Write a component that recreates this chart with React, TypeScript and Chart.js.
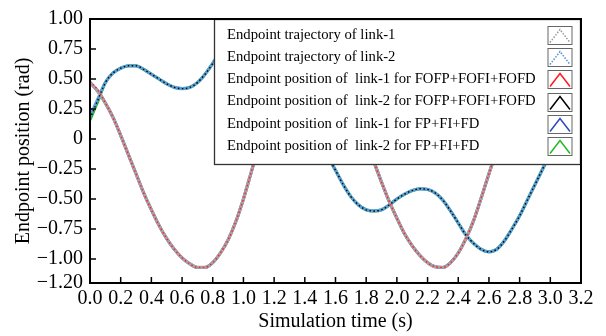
import React, { useEffect, useRef } from 'react';
import { Chart, registerables } from 'chart.js';

Chart.register(...registerables);

const FONT = '"Liberation Serif", "Times New Roman", serif';

// Simulation time (s)
const timeS = [
  0.0, 0.05, 0.1, 0.15, 0.2, 0.25, 0.3, 0.35, 0.4, 0.45,
  0.5, 0.55, 0.6, 0.65, 0.7, 0.75, 0.8, 0.85, 0.9, 0.95,
  1.0, 1.05, 1.1, 1.15, 1.2, 1.25, 1.3, 1.35, 1.4, 1.45,
  1.5, 1.55, 1.6, 1.65, 1.7, 1.75, 1.8, 1.85, 1.9, 1.95,
  2.0, 2.05, 2.1, 2.15, 2.2, 2.25, 2.3, 2.35, 2.4, 2.45,
  2.5, 2.55, 2.6, 2.65, 2.7, 2.75, 2.8, 2.85, 2.9, 2.95,
  3.0,
];

const link1Trajectory = [
  0.47, 0.40, 0.30, 0.18, 0.03, -0.13, -0.29, -0.45, -0.59, -0.72,
  -0.83, -0.92, -0.99, -1.04, -1.07, -1.07, -1.03, -0.95, -0.84, -0.69,
  -0.50, -0.28, -0.06, 0.12, 0.26, 0.36, 0.43, 0.47, 0.48, 0.48,
  0.48, 0.47, 0.44, 0.37, 0.27, 0.14, -0.02, -0.19, -0.36, -0.52,
  -0.66, -0.79, -0.89, -0.97, -1.03, -1.065, -1.07, -1.03, -0.95, -0.83,
  -0.68, -0.49, -0.29, -0.10, 0.07, 0.21, 0.32, 0.40, 0.45, 0.47,
  0.48,
];

const link2Trajectory = [
  0.19, 0.33, 0.47, 0.55, 0.59, 0.61, 0.61, 0.58, 0.54, 0.50,
  0.46, 0.43, 0.42, 0.43, 0.47, 0.54, 0.63, 0.73, 0.82, 0.88,
  0.91, 0.91, 0.87, 0.80, 0.70, 0.57, 0.42, 0.28, 0.16, 0.05,
  -0.05, -0.15, -0.26, -0.38, -0.48, -0.55, -0.59, -0.60, -0.59, -0.55,
  -0.50, -0.46, -0.43, -0.415, -0.42, -0.45, -0.51, -0.60, -0.70, -0.80,
  -0.87, -0.92, -0.94, -0.92, -0.85, -0.75, -0.64, -0.51, -0.38, -0.25,
  -0.12,
];

const link1Fofp = [
  0.48, 0.41, 0.30, 0.18, 0.03, -0.13, -0.29, -0.45, -0.59, -0.72,
  -0.83, -0.92, -0.99, -1.04, -1.07, -1.07, -1.03, -0.95, -0.84, -0.69,
  -0.50, -0.28, -0.06, 0.12, 0.26, 0.36, 0.43, 0.47, 0.48, 0.48,
  0.48, 0.47, 0.44, 0.37, 0.27, 0.14, -0.02, -0.19, -0.36, -0.52,
  -0.66, -0.79, -0.89, -0.97, -1.03, -1.065, -1.07, -1.03, -0.95, -0.83,
  -0.68, -0.49, -0.29, -0.10, 0.07, 0.21, 0.32, 0.40, 0.45, 0.47,
  0.48,
];

const link2Fofp = [
  0.17, 0.32, 0.47, 0.55, 0.59, 0.61, 0.61, 0.58, 0.54, 0.50,
  0.46, 0.43, 0.42, 0.43, 0.47, 0.54, 0.63, 0.73, 0.82, 0.88,
  0.91, 0.91, 0.87, 0.80, 0.70, 0.57, 0.42, 0.28, 0.16, 0.05,
  -0.05, -0.15, -0.26, -0.38, -0.48, -0.55, -0.59, -0.60, -0.59, -0.55,
  -0.50, -0.46, -0.43, -0.415, -0.42, -0.45, -0.51, -0.60, -0.70, -0.80,
  -0.87, -0.92, -0.94, -0.92, -0.85, -0.75, -0.64, -0.51, -0.38, -0.25,
  -0.12,
];

const link1Fp = [
  0.47, 0.40, 0.30, 0.18, 0.03, -0.13, -0.29, -0.45, -0.59, -0.72,
  -0.83, -0.92, -0.99, -1.04, -1.07, -1.07, -1.03, -0.95, -0.84, -0.69,
  -0.50, -0.28, -0.06, 0.12, 0.26, 0.36, 0.43, 0.47, 0.48, 0.48,
  0.48, 0.47, 0.44, 0.37, 0.27, 0.14, -0.02, -0.19, -0.36, -0.52,
  -0.66, -0.79, -0.89, -0.97, -1.03, -1.065, -1.07, -1.03, -0.95, -0.83,
  -0.68, -0.49, -0.29, -0.10, 0.07, 0.21, 0.32, 0.40, 0.45, 0.47,
  0.48,
];

const link2Fp = [
  0.16, 0.31, 0.47, 0.55, 0.59, 0.61, 0.61, 0.58, 0.54, 0.50,
  0.46, 0.43, 0.42, 0.43, 0.47, 0.54, 0.63, 0.73, 0.82, 0.88,
  0.91, 0.91, 0.87, 0.80, 0.70, 0.57, 0.42, 0.28, 0.16, 0.05,
  -0.05, -0.15, -0.26, -0.38, -0.48, -0.55, -0.59, -0.60, -0.59, -0.55,
  -0.50, -0.46, -0.43, -0.415, -0.42, -0.45, -0.51, -0.60, -0.70, -0.80,
  -0.87, -0.92, -0.94, -0.92, -0.85, -0.75, -0.64, -0.51, -0.38, -0.25,
  -0.12,
];

const seriesLabels = [
  'Endpoint trajectory of link-1',
  'Endpoint trajectory of link-2',
  'Endpoint position of  link-1 for FOFP+FOFI+FOFD',
  'Endpoint position of  link-2 for FOFP+FOFI+FOFD',
  'Endpoint position of  link-1 for FP+FI+FD',
  'Endpoint position of  link-2 for FP+FI+FD',
];

const xTickValues = [0, 0.2, 0.4, 0.6, 0.8, 1.0, 1.2, 1.4, 1.6, 1.8, 2.0, 2.2, 2.4, 2.6, 2.8, 3.0, 3.2];
const yTickValues = [1.0, 0.75, 0.5, 0.25, 0, -0.25, -0.5, -0.75, -1.0, -1.2];
const yTickLabels = ['1.00', '0.75', '0.50', '0.25', '0', '\u22120.25', '\u22120.50', '\u22120.75', '\u22121.00', '\u22121.20'];

const swatchColors = ['#9a9a9a', '#4a90d9', '#ff1a1a', '#000000', '#3048c0', '#22bb22'];
const swatchDashes: number[][] = [[1.5, 1.5], [1.5, 1.5], [], [], [], []];

const toPoints = (vals: number[]) => timeS.map((t, i) => ({ x: t, y: vals[i] }));

const framePlugin = {
  id: 'frameAndLegend',
  afterDatasetsDraw(chart: any) {
    const { ctx, chartArea: a } = chart;
    const xs = chart.scales.x;
    const ys = chart.scales.y;
    ctx.save();

    // inward ticks
    ctx.strokeStyle = '#000';
    ctx.lineWidth = 1.5;
    ctx.setLineDash([]);
    ctx.beginPath();
    xTickValues.forEach((v) => {
      const px = xs.getPixelForValue(v);
      if (px <= a.left + 1 || px >= a.right - 1) return;
      ctx.moveTo(px, a.bottom);
      ctx.lineTo(px, a.bottom - 6);
    });
    yTickValues.forEach((v) => {
      const py = ys.getPixelForValue(v);
      if (py <= a.top + 1 || py >= a.bottom - 1) return;
      ctx.moveTo(a.left, py);
      ctx.lineTo(a.left + 6, py);
    });
    ctx.stroke();

    // legend box
    const L = a.left + 124;
    const T = a.top;
    const R = a.right;
    const B = a.top + 146;
    ctx.fillStyle = '#ffffff';
    ctx.fillRect(L, T, R - L, B - T);
    ctx.strokeStyle = '#333';
    ctx.lineWidth = 1.3;
    ctx.strokeRect(L + 0.5, T + 0.5, R - L - 1, B - T - 1);

    ctx.font = `14.7px ${FONT}`;
    ctx.textBaseline = 'middle';
    ctx.textAlign = 'left';
    chart.data.datasets.forEach((ds: any, i: number) => {
      const y = T + 16 + i * 22.2;
      ctx.fillStyle = '#000';
      ctx.fillText(ds.label, L + 13, y);
      const sw = 24;
      const sh = 18;
      const sx = R - 33;
      const sy = Math.round(y - sh / 2) + 0.5;
      ctx.setLineDash([]);
      ctx.strokeStyle = '#666';
      ctx.lineWidth = 1;
      ctx.strokeRect(sx, sy, sw, sh);
      ctx.beginPath();
      ctx.moveTo(sx + 2, sy + sh - 2);
      ctx.lineTo(sx + sw / 2, sy + 3);
      ctx.lineTo(sx + sw - 2, sy + sh - 2);
      ctx.strokeStyle = swatchColors[i];
      ctx.setLineDash(swatchDashes[i]);
      ctx.lineWidth = 1.5;
      ctx.stroke();
    });

    // frame
    ctx.setLineDash([]);
    ctx.strokeStyle = '#000';
    ctx.lineWidth = 2;
    ctx.strokeRect(a.left, a.top, a.right - a.left, a.bottom - a.top);
    ctx.restore();
  },
};

export default function App() {
  const canvasRef = useRef<HTMLCanvasElement | null>(null);

  useEffect(() => {
    const canvas = canvasRef.current;
    if (!canvas) return;
    const chart = new Chart(canvas, {
      type: 'line',
      data: {
        datasets: [
          {
            label: seriesLabels[0],
            data: toPoints(link1Trajectory),
            borderColor: '#a9a1a3',
            borderWidth: 3.2,
            order: 2,
          },
          {
            label: seriesLabels[1],
            data: toPoints(link2Trajectory),
            borderColor: '#5b9fd8',
            borderWidth: 3.2,
            order: 3,
          },
          {
            label: seriesLabels[2],
            data: toPoints(link1Fofp),
            borderColor: '#ff2020',
            borderWidth: 1.4,
            borderDash: [1.5, 2.5],
            order: 0,
          },
          {
            label: seriesLabels[3],
            data: toPoints(link2Fofp),
            borderColor: '#000000',
            borderWidth: 1.4,
            borderDash: [1.5, 2.5],
            order: 1,
          },
          {
            label: seriesLabels[4],
            data: toPoints(link1Fp),
            borderColor: '#3048c0',
            borderWidth: 3,
            order: 4,
          },
          {
            label: seriesLabels[5],
            data: toPoints(link2Fp),
            borderColor: '#22bb22',
            borderWidth: 3,
            order: 5,
          },
        ] as any,
      },
      options: {
        animation: false,
        responsive: false,
        maintainAspectRatio: false,
        events: [],
        elements: {
          point: { radius: 0 },
          line: { cubicInterpolationMode: 'monotone', fill: false },
        },
        layout: { padding: { left: 0, right: 25, top: 16, bottom: 0 } },
        plugins: {
          legend: { display: false },
          tooltip: { enabled: false },
        },
        scales: {
          x: {
            type: 'linear',
            min: 0,
            max: 3.2,
            afterBuildTicks: (s: any) => {
              s.ticks = xTickValues.map((v) => ({ value: v }));
            },
            afterFit: (s: any) => {
              s.height = 53;
            },
            grid: { display: false, drawTicks: false },
            border: { display: false },
            ticks: {
              autoSkip: false,
              maxRotation: 0,
              minRotation: 0,
              padding: 4,
              color: '#000',
              font: { family: FONT, size: 20 },
              callback: (v: any) => Number(v).toFixed(1),
            },
            title: {
              display: true,
              text: 'Simulation time (s)',
              color: '#000',
              font: { family: FONT, size: 20 },
              padding: { top: 0, bottom: 2 },
            },
          },
          y: {
            type: 'linear',
            min: -1.2,
            max: 1.0,
            afterBuildTicks: (s: any) => {
              s.ticks = yTickValues.map((v) => ({ value: v }));
            },
            afterFit: (s: any) => {
              s.width = 90;
            },
            grid: { display: false, drawTicks: false },
            border: { display: false },
            ticks: {
              autoSkip: false,
              padding: 7,
              color: '#000',
              font: { family: FONT, size: 20 },
              callback: (v: any) => {
                const idx = yTickValues.findIndex((t) => Math.abs(t - Number(v)) < 1e-6);
                return idx >= 0 ? yTickLabels[idx] : '';
              },
            },
            title: {
              display: true,
              text: 'Endpoint position (rad)',
              color: '#000',
              font: { family: FONT, size: 20 },
              padding: { top: 12, bottom: 0 },
            },
          },
        },
      } as any,
      plugins: [framePlugin],
    });
    return () => chart.destroy();
  }, []);

  return (
    <div style={{ position: 'fixed', left: 0, top: 0, width: 606, height: 336, background: '#fff' }}>
      <canvas ref={canvasRef} width={606} height={336} style={{ display: 'block', width: 606, height: 336 }} />
    </div>
  );
}
